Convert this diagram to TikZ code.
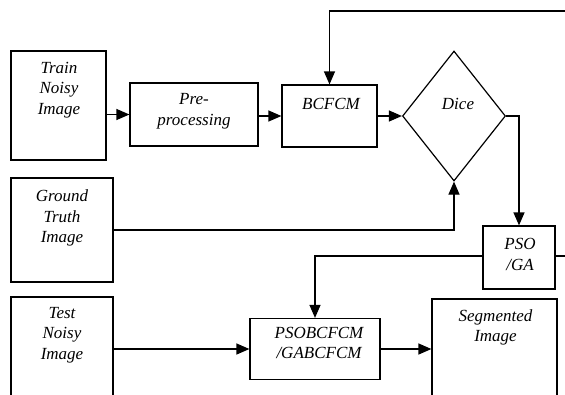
\documentclass[tikz,border=0pt]{standalone}
\usepackage{fontspec}
\setmainfont{Liberation Serif}
\usetikzlibrary{arrows.meta,shapes.geometric}
\begin{document}
\begin{tikzpicture}[x=1pt,y=-1pt,
  box/.style={draw,line width=1.2pt,inner sep=0pt},
  lbl/.style={align=center,inner sep=0pt,font=\itshape\fontsize{17}{20.5}\selectfont},
  conn/.style={line width=1.2pt},
  arr/.style={conn,-{Triangle[length=13pt,width=11pt]}}]
\useasboundingbox (0,0) rectangle (565,394);
\clip (0,0) rectangle (565,394);
% boxes
\node[box,minimum width=95,minimum height=109] (train) at (58.5,105.5) {};
\node[box,minimum width=128,minimum height=63] (pre) at (194,114.5) {};
\node[box,minimum width=95,minimum height=62] (bcfcm) at (329.5,116) {};
\node[box,diamond,minimum width=103,minimum height=130] (dice) at (454,116) {};
\node[box,minimum width=72,minimum height=63] (pso) at (519,257.5) {};
\node[box,minimum width=130,minimum height=61] (ps) at (315,349) {};
\node[box,minimum width=125,minimum height=140] (seg) at (494.5,369) {};
\node[box,minimum width=102,minimum height=104] (gt) at (62,230) {};
\node[box,minimum width=102,minimum height=140] (test) at (62,367) {};
% labels
\node[lbl] (ttrain) at (59,90) {Train\\Noisy\\Image};
\node[lbl] (tpre) at (194,111) {Pre-\\processing};
\node[lbl] (tbcfcm) at (331,104) {BCFCM};
\node[lbl] (tdice) at (458,104) {Dice};
\node[lbl] (tpso) at (520,254.5) {PSO\\/GA};
\node[lbl] (tps) at (319,343) {PSOBCFCM\\/GABCFCM};
\node[lbl] (tseg) at (495.5,327.5) {Segmented\\Image};
\node[lbl] (tgt) at (62,218) {Ground\\Truth\\Image};
\node[lbl] (ttest) at (62,335) {Test\\Noisy\\Image};
% free ends
\coordinate (topR) at (566,11);
\coordinate (psoR) at (566,256);
% connectors
\draw[arr] (train.east |- pre.west) -- (pre.west);
\draw[arr] (pre.east |- bcfcm.west) -- (bcfcm.west);
\draw[arr] (bcfcm.east) -- (dice.west);
\draw[arr] (topR) -| (bcfcm.north);
\draw[arr] (dice.east) -| (pso.north);
\draw[arr] (gt.east) -| (dice.south);
\draw[arr] (pso.west |- psoR) -| (ps.north);
\draw[conn] (pso.east |- psoR) -- (psoR);
\draw[arr] (test.east |- ps.west) -- (ps.west);
\draw[arr] (ps.east) -- (ps.east -| seg.west);
\end{tikzpicture}
\end{document}
